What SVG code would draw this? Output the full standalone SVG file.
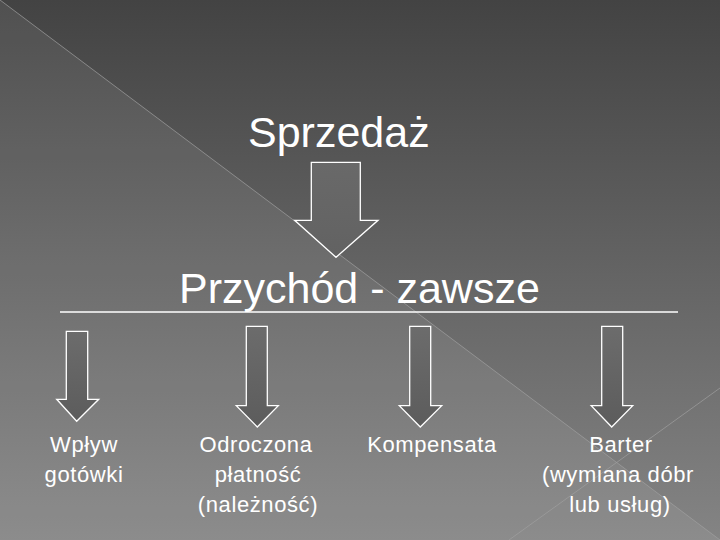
<svg xmlns="http://www.w3.org/2000/svg" width="720" height="540" viewBox="0 0 720 540">
  <defs>
    <linearGradient id="bg" x1="0" y1="0" x2="0" y2="1">
      <stop offset="0" stop-color="#434343"/>
      <stop offset="1" stop-color="#848484"/>
    </linearGradient>
    <linearGradient id="arrowFill" x1="0" y1="0" x2="0" y2="1">
      <stop offset="0" stop-color="#6c6c6c"/>
      <stop offset="1" stop-color="#5c5c5c"/>
    </linearGradient>
    <linearGradient id="arrowTopFill" x1="0" y1="0" x2="0" y2="1">
      <stop offset="0" stop-color="#696969"/>
      <stop offset="1" stop-color="#626262"/>
    </linearGradient>
    <style>
      .arrow { stroke: #ffffff; stroke-width: 1.3; stroke-linejoin: miter; fill: url(#arrowFill); }
      .arrowTop { stroke: #ffffff; stroke-width: 1.3; fill: url(#arrowTopFill); }
      .title { font-family: "Liberation Sans", Arial, sans-serif; font-size: 43px; fill: #ffffff; }
      .label { font-family: "Liberation Sans", Arial, sans-serif; font-size: 22px; fill: #ffffff; letter-spacing: 0.6px; text-anchor: middle; }
      .deco { stroke: #a0a0a0; stroke-width: 1; stroke-opacity: 0.7; fill: none; }
    </style>
  </defs>

  <!-- background -->
  <rect x="0" y="0" width="720" height="540" fill="url(#bg)"/>
  <polygon points="0,0 720,540 0,540" fill="#ffffff" fill-opacity="0.07"/>
  <line class="deco" x1="0" y1="0" x2="720" y2="540"/>
  <line class="deco" x1="720" y1="388" x2="509" y2="540"/>

  <!-- separator line -->
  <line x1="60" y1="312" x2="678" y2="312" stroke="#ffffff" stroke-width="1.3"/>

  <g id="sprzedaz">
    <text class="title" x="248" y="147">Sprzedaż</text>
  </g>

  <g id="przychod">
    <text class="title" x="179" y="303">Przychód - zawsze</text>
  </g>

  <g id="connectors">
    <polygon class="arrowTop" points="311.3,162.3 360.3,162.3 360.3,220.3 378,220.3 336,257.3 294.7,220.3 311.3,220.3"/>
    <polygon class="arrow" points="66.3,331.3 87.7,331.3 87.7,399.3 98.7,399.3 76.7,421.3 56.7,399.3 66.3,399.3"/>
    <polygon class="arrow" points="246.3,326.3 267.3,326.3 267.3,405.7 278.3,405.7 257.3,427 236.3,405.7 246.3,405.7"/>
    <polygon class="arrow" points="409.7,326.3 430.7,326.3 430.7,405.7 441.7,405.7 420.3,427 399.3,405.7 409.7,405.7"/>
    <polygon class="arrow" points="601.7,326.3 622.7,326.3 622.7,405.7 632.7,405.7 611.7,427 591.2,405.7 601.7,405.7"/>
  </g>

  <g id="wplyw">
    <text class="label" x="84" y="452">Wpływ</text>
    <text class="label" x="84" y="482">gotówki</text>
  </g>

  <g id="odroczona">
    <text class="label" x="256" y="452">Odroczona</text>
    <text class="label" x="258" y="482">płatność</text>
    <text class="label" x="258" y="512">(należność)</text>
  </g>

  <g id="kompensata">
    <text class="label" x="432" y="452">Kompensata</text>
  </g>

  <g id="barter">
    <text class="label" x="621" y="452">Barter</text>
    <text class="label" x="618" y="482">(wymiana dóbr</text>
    <text class="label" x="620" y="512">lub usług)</text>
  </g>
</svg>
